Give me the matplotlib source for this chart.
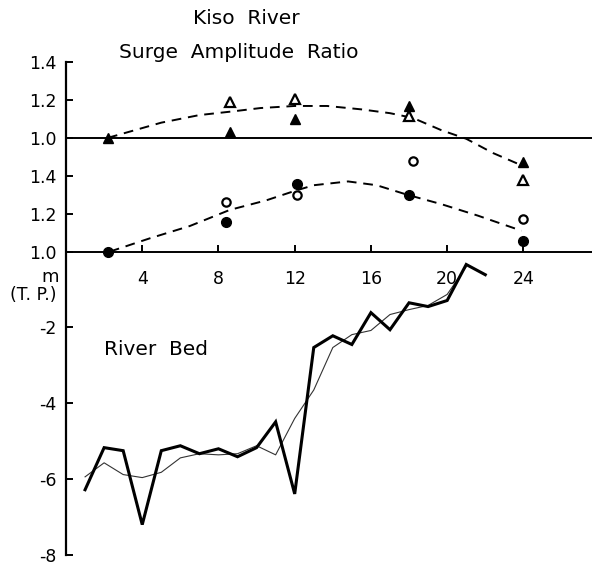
import matplotlib
matplotlib.use("Agg")
import matplotlib.pyplot as plt

plt.rcParams["font.family"] = ["DejaVu Sans"]
plt.rcParams["axes.unicode_minus"] = False

# ---- surge amplitude ratio, triangles (upper panel) ----
tri_x_filled = [2.2, 8.6, 12.0, 18.0, 24.0]
tri_r_filled = [1.00, 1.03, 1.10, 1.17, 0.87]
tri_x_open = [8.6, 12.0, 18.0, 24.0]
tri_r_open = [1.19, 1.205, 1.115, 0.78]
tri_fit_x = [2.2, 5.0, 7.0, 8.8, 10.2, 12.0, 13.7, 15.5, 17.0, 18.2, 19.7, 21.0, 22.4, 23.9]
tri_fit_r = [1.00, 1.08, 1.12, 1.14, 1.157, 1.168, 1.168, 1.15, 1.13, 1.105, 1.04, 0.995, 0.92, 0.855]

# ---- surge amplitude ratio, circles (lower panel) ----
cir_x_filled = [2.2, 8.4, 12.1, 18.0, 24.0]
cir_r_filled = [1.00, 1.157, 1.357, 1.30, 1.058]
cir_x_open = [8.4, 12.1, 18.2, 24.0]
cir_r_open = [1.262, 1.30, 1.48, 1.17]
cir_fit_x = [2.3, 4.4, 6.5, 8.6, 10.5, 12.0, 13.0, 14.8, 16.3, 17.9, 19.7, 21.6, 23.9]
cir_fit_r = [1.00, 1.07, 1.135, 1.22, 1.27, 1.32, 1.35, 1.37, 1.35, 1.30, 1.25, 1.19, 1.11]

# ---- river bed elevation (m, T.P.) ----
bed_x = list(range(1, 23))
bed_thick = [-6.28, -5.17, -5.25, -7.20, -5.25, -5.12, -5.33, -5.20, -5.41, -5.17, -4.49,
             -6.39, -2.53, -2.22, -2.45, -1.61, -2.06, -1.35, -1.45, -1.29, -0.34, -0.61]
bed_thin_x = list(range(1, 22))
bed_thin = [-5.94, -5.57, -5.88, -5.96, -5.82, -5.44, -5.33, -5.36, -5.33, -5.12, -5.36,
            -4.40, -3.65, -2.53, -2.19, -2.08, -1.66, -1.53, -1.42, -1.13, -0.40]

x_ticks = [4, 8, 12, 16, 20, 24]
bed_ticks = [-2, -4, -6, -8]
ratio_ticks = [1.0, 1.2, 1.4]

fig = plt.figure(figsize=(5.92, 5.66), dpi=100)
ax = fig.add_axes([0.1115, 0.0195, 0.8885, 0.871])
ax.set_xlim(0, 27.6)
ax.set_ylim(-8, 5)

# twin axes for the two ratio panels, scaled so 0.2 of ratio = 1 m of bed
ax_low = ax.twinx()
ax_low.set_ylim(-0.6, 2.0)
ax_top = ax.twinx()
ax_top.set_ylim(-1.2, 1.4)

for a in (ax, ax_low, ax_top):
    for s in a.spines.values():
        s.set_visible(False)
    a.yaxis.tick_left()
    a.tick_params(axis="y", direction="in", length=5, width=1.4, labelsize=12.5, pad=7)

ax.spines["left"].set_visible(True)
ax.spines["left"].set_linewidth(1.6)
ax.spines["bottom"].set_visible(True)
ax.spines["bottom"].set_position(("data", 0))
ax.spines["bottom"].set_linewidth(1.4)

ax.set_xticks(x_ticks)
ax.set_xticklabels([str(t) for t in x_ticks])
ax.tick_params(axis="x", direction="in", length=5, width=1.4, labelsize=12.5, pad=13)
ax.set_yticks(bed_ticks)
ax.set_yticklabels([str(t) for t in bed_ticks])
ax_low.set_yticks(ratio_ticks)
ax_low.set_yticklabels(["1.0", "1.2", "1.4"])
ax_top.set_yticks(ratio_ticks)
ax_top.set_yticklabels(["1.0", "1.2", "1.4"])

# river bed profiles
ax.plot(bed_thin_x, bed_thin, color="#333333", lw=0.8)
ax.plot(bed_x, bed_thick, color="black", lw=2.2, solid_joinstyle="miter")

# upper panel: triangles
ax_top.axhline(1.0, color="black", lw=1.4)
ax_top.plot(tri_fit_x, tri_fit_r, color="black", lw=1.4, dashes=(5, 3.5))
ax_top.plot(tri_x_filled, tri_r_filled, "^", color="black", ms=7.5, ls="none")
ax_top.plot(tri_x_open, tri_r_open, "^", mfc="white", mec="black", mew=1.6, ms=6.5, ls="none")

# lower panel: circles
ax_low.plot(cir_fit_x, cir_fit_r, color="black", lw=1.4, dashes=(5, 3.5))
ax_low.plot(cir_x_filled, cir_r_filled, "o", color="black", ms=7, ls="none")
ax_low.plot(cir_x_open, cir_r_open, "o", mfc="white", mec="black", mew=1.6, ms=6, ls="none")

# labels
fig.text(246 / 592, 1 - 18 / 566, "Kiso  River", ha="center", va="center", fontsize=14.5)
fig.text(239 / 592, 1 - 52 / 566, "Surge  Amplitude  Ratio", ha="center", va="center", fontsize=14.5)
fig.text(50 / 592, 1 - 277 / 566, "m", ha="center", va="center", fontsize=13)
fig.text(33 / 592, 1 - 295 / 566, "(T. P.)", ha="center", va="center", fontsize=12.5)
ax.text(2.0, -2.57, "River  Bed", ha="left", va="center", fontsize=14.5)

fig.savefig("out.png", dpi=100)
